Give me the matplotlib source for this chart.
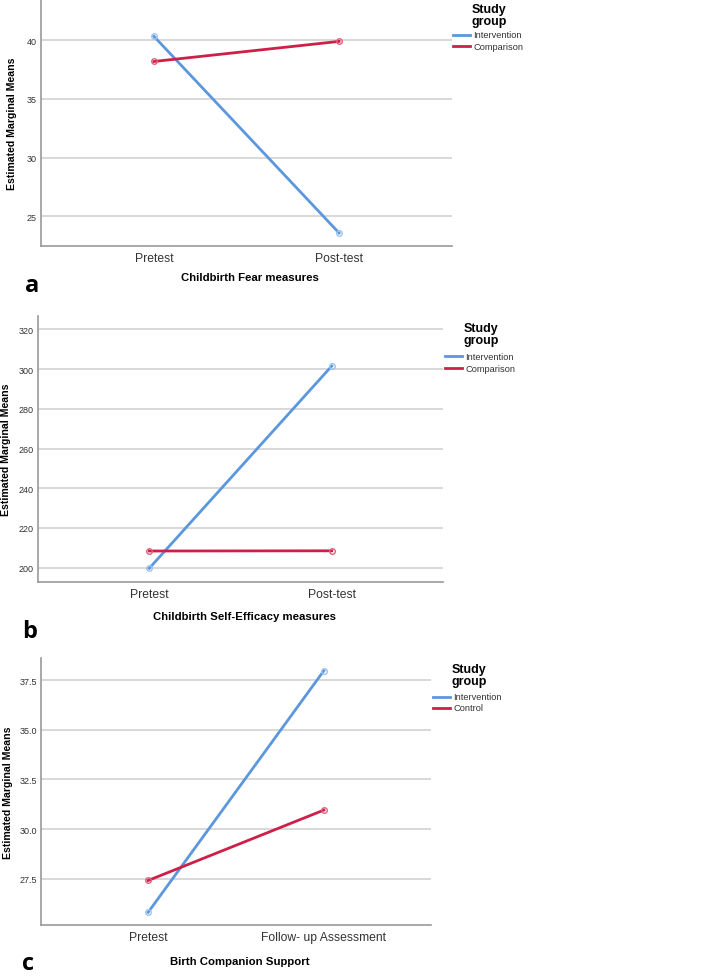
import matplotlib
matplotlib.use("Agg")
import matplotlib.pyplot as plt

plt.rcParams["font.family"] = ["Liberation Sans", "DejaVu Sans"]

W, H = 709, 978

# Panel a - Childbirth Fear
cats_a = ["Pretest", "Post-test"]
fear_intervention = [40.32, 23.58]
fear_comparison = [38.18, 39.89]

# Panel b - Childbirth Self-Efficacy
cats_b = ["Pretest", "Post-test"]
eff_intervention = [199.7, 301.5]
eff_comparison = [208.4, 208.5]

# Panel c - Birth Companion Support
cats_c = ["Pretest", "Follow- up Assessment"]
sup_intervention = [25.82, 37.97]
sup_control = [27.42, 30.96]

blue = "#5b97dd"
red = "#cf1f48"
grid_col = "#d6d6d6"

fig = plt.figure(figsize=(W / 100, H / 100), dpi=100)


def px_axes(left, top, right, bottom):
    return fig.add_axes([left / W, 1 - bottom / H, (right - left) / W, (bottom - top) / H])


def panel(box, cats, s1, s2, ylim, yticks, yfmt, xlabel, xlab_y, letter, letter_xy, ylab_x):
    ax = px_axes(*box)
    x = [0, 1]
    ax.plot(x, s1, color=blue, lw=2, marker="o", ms=4, mfc="none", mec="#9cc3ee", mew=1, zorder=3)
    ax.plot(x, s2, color=red, lw=2, marker="o", ms=4, mfc="none", mec="#e0607f", mew=1, zorder=3)
    ax.set_xlim(-0.61, 1.61)
    ax.set_ylim(*ylim)
    ax.set_yticks(yticks)
    ax.set_yticklabels([yfmt.format(v) for v in yticks], fontsize=6.5, color="#333333")
    ax.set_xticks(x)
    ax.set_xticklabels(cats, fontsize=8.7, color="#333333")
    ax.tick_params(length=0, pad=3)
    ax.tick_params(axis="x", pad=4)
    for v in yticks:
        ax.axhline(v, color=grid_col, lw=1.3, zorder=1)
    for s in ["top", "right"]:
        ax.spines[s].set_visible(False)
    for s in ["left", "bottom"]:
        ax.spines[s].set_color("#999999")
        ax.spines[s].set_linewidth(1.2)
    cx = (box[0] + box[2]) / 2
    fig.text(cx / W + 0.005, 1 - xlab_y / H, xlabel, ha="center", va="center",
             fontsize=8.2, fontweight="bold")
    cy = (box[1] + box[3]) / 2
    fig.text(ylab_x / W, 1 - cy / H, "Estimated Marginal Means", rotation=90,
             ha="center", va="center", fontsize=7.6, fontweight="bold")
    fig.text(letter_xy[0] / W, 1 - letter_xy[1] / H, letter, ha="center", va="center",
             fontsize=17, fontweight="bold", family=["Open Sans", "DejaVu Sans"])
    return ax


def legend(x0, ytitle, y1, y2, names):
    fig.text((x0 + 19) / W, 1 - ytitle / H, "Study\ngroup", ha="left", va="top",
             fontsize=9, fontweight="bold", linespacing=0.95)
    for yy, col, nm in [(y1, blue, names[0]), (y2, red, names[1])]:
        fig.add_artist(plt.Line2D([x0 / W, (x0 + 17) / W], [1 - yy / H, 1 - yy / H],
                                  color=col, lw=2, transform=fig.transFigure))
        fig.text((x0 + 20) / W, 1 - yy / H, nm, ha="left", va="center", fontsize=6.7,
                 color="#333333")


panel((41, 0, 452, 247), cats_a, fear_intervention, fear_comparison,
      (22.47, 43.5), [25, 30, 35, 40], "{:d}", "Childbirth Fear measures", 278,
      "a", (32, 286), 12)
legend(453, 4, 36, 47, ["Intervention", "Comparison"])

panel((38, 317, 443, 583), cats_b, eff_intervention, eff_comparison,
      (192.8, 326.7), [200, 220, 240, 260, 280, 300, 320], "{:d}",
      "Childbirth Self-Efficacy measures", 617, "b", (30, 632), 6)
legend(445, 323, 357, 369, ["Intervention", "Comparison"])

panel((41, 659, 431, 926), cats_c, sup_intervention, sup_control,
      (25.18, 38.61), [27.5, 30.0, 32.5, 35.0, 37.5], "{:.1f}",
      "Birth Companion Support", 962, "c", (28, 964), 8)
legend(433, 664, 698, 709, ["Intervention", "Control"])

fig.savefig("out.png", dpi=100)
